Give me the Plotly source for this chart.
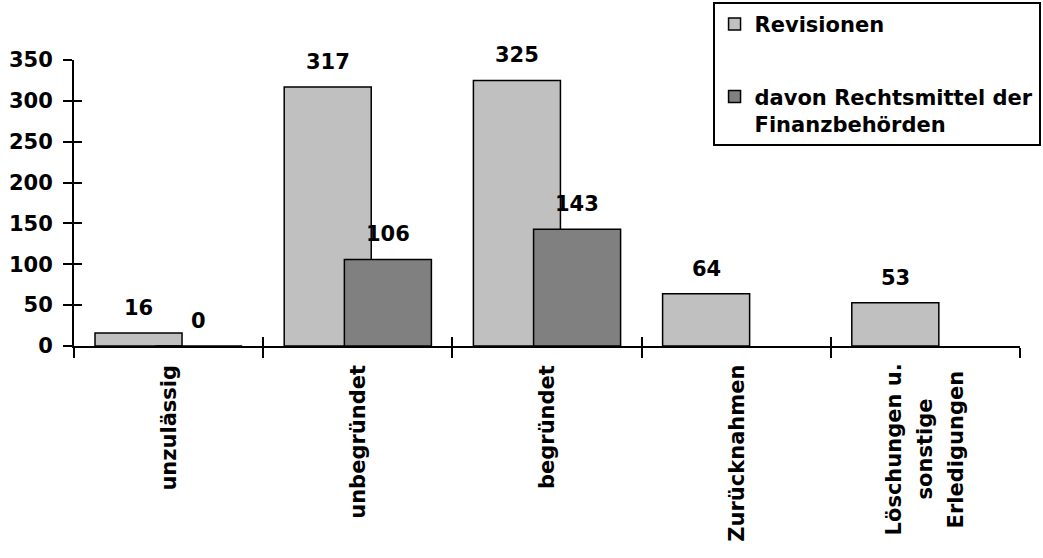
import plotly.graph_objects as go

# Categories and values
categories = ["unzulässig", "unbegründet", "begründet", "Zurücknahmen",
              "Löschungen u.<br>sonstige<br>Erledigungen"]
revisionen = [16, 317, 325, 64, 53]
rechtsmittel = [0, 106, 143, None, None]
y_ticks = [0, 50, 100, 150, 200, 250, 300, 350]

series_names = ["Revisionen", "davon Rechtsmittel der<br>Finanzbehörden"]
colors = ["#C0C0C0", "#808080"]

FONT = "DejaVu Sans"
FS = 21
BLACK = "#000000"
LINE_PITCH = 31       # px between lines of the rotated category labels
LABEL_GAP = 17        # px from axis to top of single-line category labels
MULTI_CENTER = 103    # px from axis to centre of multi-line category labels

x_pos = list(range(len(categories)))
bar_width = 0.46
offsets = [-0.389, -0.071]

fig = go.Figure()
for k, (name, vals) in enumerate(zip(series_names, [revisionen, rechtsmittel])):
    fig.add_trace(go.Bar(
        x=x_pos, y=vals, name=name,
        width=bar_width, offset=offsets[k],
        marker=dict(color=colors[k], line=dict(color=BLACK, width=1.5)),
        legendgroup=f"g{k}",
        hoverinfo="skip",
    ))

annotations = []
# value labels above bars
for k, vals in enumerate([revisionen, rechtsmittel]):
    for i, v in enumerate(vals):
        if v is None:
            continue
        annotations.append(dict(
            x=x_pos[i] + offsets[k] + bar_width / 2, y=v, xref="x", yref="y",
            text=str(v), showarrow=False, yanchor="middle", yshift=25,
            font=dict(family=FONT, size=FS, color=BLACK, weight="bold"),
        ))

# rotated category labels, one annotation per line so the lines are centred
for i, c in enumerate(categories):
    lines = c.split("<br>")
    n = len(lines)
    for j, line in enumerate(lines):
        if n == 1:
            anchor, shift = "top", -LABEL_GAP
        else:
            anchor, shift = "middle", -MULTI_CENTER
        annotations.append(dict(
            x=x_pos[i], y=0, xref="x", yref="paper", text=line, showarrow=False,
            textangle=-90, yanchor=anchor, xanchor="center", yshift=shift,
            xshift=(j - (n - 1) / 2) * LINE_PITCH,
            font=dict(family=FONT, size=FS, color=BLACK, weight="bold"),
        ))

boundaries = [i - 0.5 for i in range(len(categories) + 1)]

# helper trace so the inside-tick axes are drawn
fig.add_trace(go.Scatter(x=[None], y=[None], xaxis="x2", yaxis="y2",
                         showlegend=False, hoverinfo="skip"))

fig.update_layout(
    width=1043, height=558,
    margin=dict(l=74, r=23, t=60, b=212, autoexpand=False),
    paper_bgcolor="white", plot_bgcolor="white",
    barmode="overlay",
    font=dict(family=FONT, size=FS, color=BLACK),
    showlegend=True,
    legend=dict(
        x=0.675, y=1.203, xanchor="left", yanchor="top",
        bordercolor=BLACK, borderwidth=2, bgcolor="white",
        traceorder="grouped", tracegroupgap=42, valign="top",
        font=dict(family=FONT, size=FS, color=BLACK, weight="bold"),
    ),
    xaxis=dict(
        range=[-0.5, 4.5], tickvals=boundaries, showticklabels=False,
        ticks="outside", ticklen=10, tickwidth=2, tickcolor=BLACK,
        showline=True, linecolor=BLACK, linewidth=2, showgrid=False,
        zeroline=False, fixedrange=True,
    ),
    xaxis2=dict(
        range=[-0.5, 4.5], tickvals=boundaries, showticklabels=False,
        overlaying="x", anchor="y", side="bottom",
        ticks="inside", ticklen=9, tickwidth=2, tickcolor=BLACK,
        showline=False, showgrid=False, zeroline=False,
    ),
    yaxis=dict(
        range=[0, 350], tickvals=y_ticks,
        ticks="outside", ticklen=9, tickwidth=2, tickcolor=BLACK,
        ticklabelstandoff=6,
        tickfont=dict(family=FONT, size=FS, color=BLACK, weight="bold"),
        showline=True, linecolor=BLACK, linewidth=2, showgrid=False,
        zeroline=False,
    ),
    yaxis2=dict(
        range=[0, 350], tickvals=y_ticks, showticklabels=False,
        overlaying="y", anchor="x", side="left",
        ticks="inside", ticklen=8, tickwidth=2, tickcolor=BLACK,
        showline=False, showgrid=False, zeroline=False,
    ),
    annotations=annotations,
)

fig.write_html("out.html")
